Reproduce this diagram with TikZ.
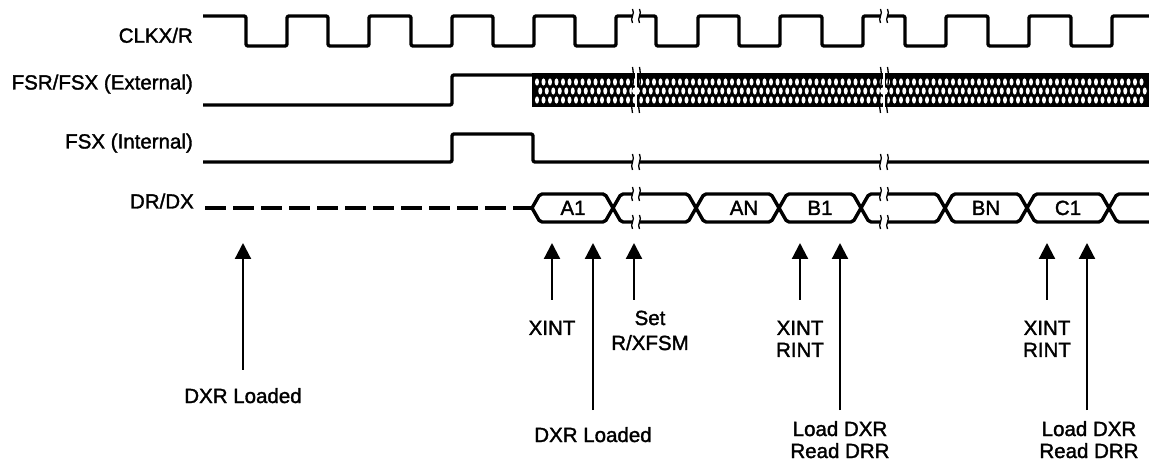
\documentclass[tikz,border=0pt]{standalone}
\usepackage{fontspec}
\setmainfont{Liberation Sans}
\newfontfamily\lblfont[RawFeature={embolden=1.6}]{Liberation Sans}
\usetikzlibrary{arrows.meta}
\newcommand\brkm[3]{%
  \fill[white] ({#1-2.6},{#2-2.3}) rectangle ({#1+2.6},{#2+2.3});
  \draw[brk] ({#1-3.5},{#2-#3}) .. controls ({#1-0.5},{#2-#3*0.3}) and ({#1-6.5},{#2+#3*0.3}) .. ({#1-3.5},{#2+#3});
  \draw[brk] ({#1+3.5},{#2-#3}) .. controls ({#1+6.5},{#2-#3*0.3}) and ({#1+0.5},{#2+#3*0.3}) .. ({#1+3.5},{#2+#3});
}
\newcommand\bandbrk[1]{%
  \fill[white] ({#1-1},73) rectangle ({#1+1},108.5);
  \draw[brk] ({#1-3.5},67) .. controls ({#1-0.5},83) and ({#1-6.5},99) .. ({#1-3.5},113);
  \draw[brk] ({#1+3.5},67) .. controls ({#1+6.5},83) and ({#1+0.5},99) .. ({#1+3.5},113);
  \fill[white] (#1,91) circle[radius=4pt];
}
\begin{document}
\begin{tikzpicture}[x=1pt,y=-1pt,
  sig/.style={line width=3.4pt, line join=round, rounded corners=2pt},
  arr/.style={line width=2.2pt, -{Triangle[length=16pt,width=16pt]}},
  lbl/.style={font=\lblfont\fontsize{20.5}{24}\selectfont, inner sep=0pt, anchor=base},
  sl/.style={lbl, anchor=base east},
  brk/.style={line width=1.3pt}]
\useasboundingbox (0,0) rectangle (1149,462);

% signal names
\node[sl] (clk)  at (193,42.7)  {CLKX/R};
\node[sl] (fsr)  at (193,89.5)  {FSR/FSX (External)};
\node[sl] (fsxi) at (193,148.5) {FSX (Internal)};
\node[sl] (drdx) at (194,208.5) {DR/DX};

% CLKX/R
\draw[sig] (203,16) -- (246,16) -- (246,46) -- (287,46) -- (287,16) -- (328,16) -- (328,46)
  -- (369,46) -- (369,16) -- (411,16) -- (411,46) -- (452,46) -- (452,16) -- (493,16)
  -- (493,46) -- (534,46) -- (534,16) -- (575,16) -- (575,46) -- (616,46) -- (616,16)
  -- (656,16) -- (656,46) -- (698,46) -- (698,16) -- (739,16) -- (739,46) -- (780,46)
  -- (780,16) -- (822,16) -- (822,46) -- (863,46) -- (863,16) -- (905,16) -- (905,46)
  -- (946,46) -- (946,16) -- (988,16) -- (988,46) -- (1029,46) -- (1029,16) -- (1071,16)
  -- (1071,46) -- (1112,46) -- (1112,16) -- (1149,16);

% FSR/FSX (External)
\fill[black] (532,73.3) rectangle (1149,107.5);
\foreach \i in {0,...,93}{
  \fill[white] (537+6.5*\i,82) ellipse[x radius=2pt, y radius=3.6pt];
  \fill[white] (540.25+6.5*\i,91) ellipse[x radius=2pt, y radius=3.6pt];
  \fill[white] (537+6.5*\i,100) ellipse[x radius=2pt, y radius=3.6pt];
}
\draw[sig] (203,105) -- (452,105) -- (452,75) -- (534,75);
\draw[line width=3.4pt] (533.7,73.3) -- (533.7,107.5);

% FSX (Internal)
\draw[sig] (203,162) -- (452,162) -- (452,134) -- (533,134) -- (533,162) -- (1149,162);

% DR/DX
\draw[line width=3.4pt, dash pattern=on 21pt off 7pt] (205,208) -- (532,208);
\draw[sig] (532,208) -- (540,194) -- (605,194) -- (621,222) -- (688,222) -- (704,194)
  -- (771,194) -- (787,222) -- (853,222) -- (869,194) -- (937,194) -- (953,222)
  -- (1019,222) -- (1035,194) -- (1101,194) -- (1117,222) -- (1149,222);
\draw[sig] (532,208) -- (540,222) -- (605,222) -- (621,194) -- (688,194) -- (704,222)
  -- (771,222) -- (787,194) -- (853,194) -- (869,222) -- (937,222) -- (953,194)
  -- (1019,194) -- (1035,222) -- (1101,222) -- (1117,194) -- (1149,194);
\node[lbl] (ca1) at (573,215) {A1};
\node[lbl] (can) at (744,215) {AN};
\node[lbl] (cb1) at (820,215) {B1};
\node[lbl] (cbn) at (986,215) {BN};
\node[lbl] (cc1) at (1068,215) {C1};

% breaks
\foreach \bx in {636,884}{
  \brkm{\bx}{16}{7}
  \bandbrk{\bx}
  \brkm{\bx}{162}{8}
  \brkm{\bx}{194}{7}
  \brkm{\bx}{222}{7}
}

% event arrows
\foreach \n/\x/\t in {a1/243/370, a2/552/300, a3/593/410, a4/634/300,
                      a5/800/300, a6/840/410, a7/1047/300, a8/1087/410}{
  \coordinate (\n tip) at (\x,243);
  \coordinate (\n tail) at (\x,\t);
  \draw[arr] (\n tail) -- (\n tip);
}

% event labels
\node[lbl] (l1)  at (243,403)  {DXR Loaded};
\node[lbl] (l2)  at (552,335)  {XINT};
\node[lbl] (l3a) at (650,325)  {Set};
\node[lbl] (l3b) at (650,350)  {R/XFSM};
\node[lbl] (l4)  at (593,442)  {DXR Loaded};
\node[lbl] (l5a) at (800,335)  {XINT};
\node[lbl] (l5b) at (800,357)  {RINT};
\node[lbl] (l6a) at (840,436)  {Load DXR};
\node[lbl] (l6b) at (840,458)  {Read DRR};
\node[lbl] (l7a) at (1047,335) {XINT};
\node[lbl] (l7b) at (1047,357) {RINT};
\node[lbl] (l8a) at (1089,436) {Load DXR};
\node[lbl] (l8b) at (1089,458) {Read DRR};
\end{tikzpicture}
\end{document}
